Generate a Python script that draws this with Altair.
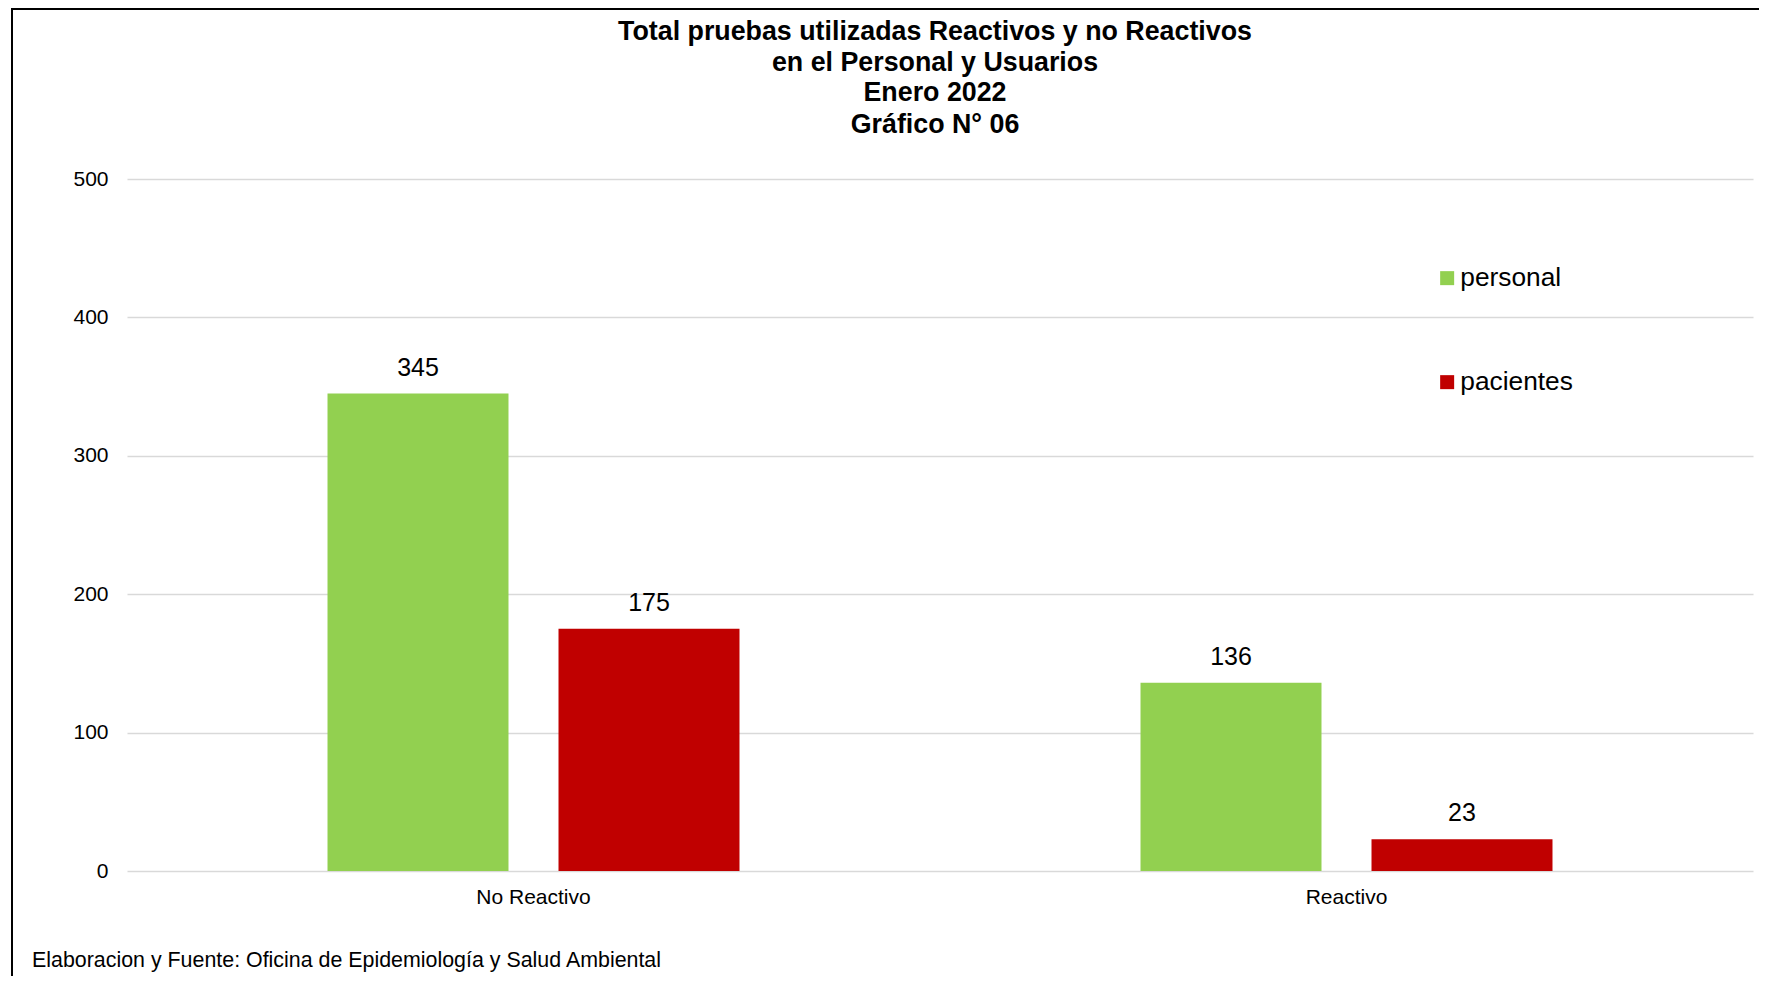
import altair as alt
import pandas as pd

categories = ["No Reactivo", "No Reactivo", "Reactivo", "Reactivo"]
groups = ["personal", "pacientes", "personal", "pacientes"]
values = [345, 175, 136, 23]

group_order = ["personal", "pacientes"]
group_colors = ["#92D050", "#C00000"]

title_lines = [
    "Total pruebas utilizadas Reactivos y no Reactivos",
    "en el Personal y Usuarios",
    "Enero 2022",
    "Gráfico N° 06",
]
footer_text = "Elaboracion y Fuente: Oficina de Epidemiología y Salud Ambiental"

df = pd.DataFrame({"categoria": categories, "grupo": groups, "valor": values})
one = pd.DataFrame({"k": [0]})

FONT = "Liberation Sans"
W, H = 1626, 692

base = alt.Chart(df).encode(
    x=alt.X(
        "categoria:N",
        sort=["No Reactivo", "Reactivo"],
        scale=alt.Scale(paddingInner=0, paddingOuter=0),
        axis=alt.Axis(
            title=None, labelAngle=0, ticks=False, domain=False,
            labelFontSize=21, labelFont=FONT, labelColor="#000000",
            labelPadding=15,
        ),
    ),
    xOffset=alt.XOffset(
        "grupo:N", sort=group_order,
        scale=alt.Scale(paddingInner=0.2165, paddingOuter=0.868),
    ),
)

bars = base.mark_bar().encode(
    y=alt.Y(
        "valor:Q",
        scale=alt.Scale(domain=[0, 500]),
        axis=alt.Axis(
            title=None, values=[0, 100, 200, 300, 400, 500], ticks=False,
            domain=False, labelFontSize=21, labelFont=FONT,
            labelColor="#000000", labelPadding=19,
            gridColor="#D9D9D9", gridWidth=1.5,
        ),
    ),
    color=alt.Color(
        "grupo:N",
        sort=group_order,
        scale=alt.Scale(domain=group_order, range=group_colors),
        legend=alt.Legend(
            title=None, orient="none", legendX=1307, legendY=86,
            symbolType="square", symbolSize=196, symbolStrokeWidth=0,
            labelFontSize=26.3, labelFont=FONT, labelColor="#000000",
            labelOffset=0, rowPadding=77, direction="vertical",
        ),
    ),
)

labels = base.mark_text(
    baseline="alphabetic", dy=-18, fontSize=25, font=FONT, color="#000000"
).encode(
    y="valor:Q",
    text="valor:Q",
)

title_y = [-147, -116, -86, -54]
title_layers = [
    alt.Chart(one).mark_text(
        align="center", baseline="middle", fontSize=26.8, font=FONT,
        fontWeight="bold", color="#000000",
    ).encode(x=alt.value(808), y=alt.value(yy), text=alt.value(line))
    for line, yy in zip(title_lines, title_y)
]

footer = alt.Chart(one).mark_text(
    align="left", baseline="middle", fontSize=21.4, font=FONT, color="#000000"
).encode(
    x=alt.value(-95), y=alt.value(782), text=alt.value(footer_text)
)

top_border = alt.Chart(one).mark_rule(color="#000000", strokeWidth=2).encode(
    x=alt.value(-115), x2=alt.value(W + 10), y=alt.value(-170)
)
left_border = alt.Chart(one).mark_rule(color="#000000", strokeWidth=2).encode(
    x=alt.value(-115), y=alt.value(-171), y2=alt.value(H + 120)
)

chart = alt.layer(
    bars, labels, footer, top_border, left_border, *title_layers
).properties(
    width=W,
    height=H,
    autosize=alt.AutoSizeParams(type="none"),
    padding={"left": 119, "top": 171, "right": 6, "bottom": 105},
).configure_view(stroke=None)

chart.save("out.html", embed_options={"renderer": "svg", "actions": False})
